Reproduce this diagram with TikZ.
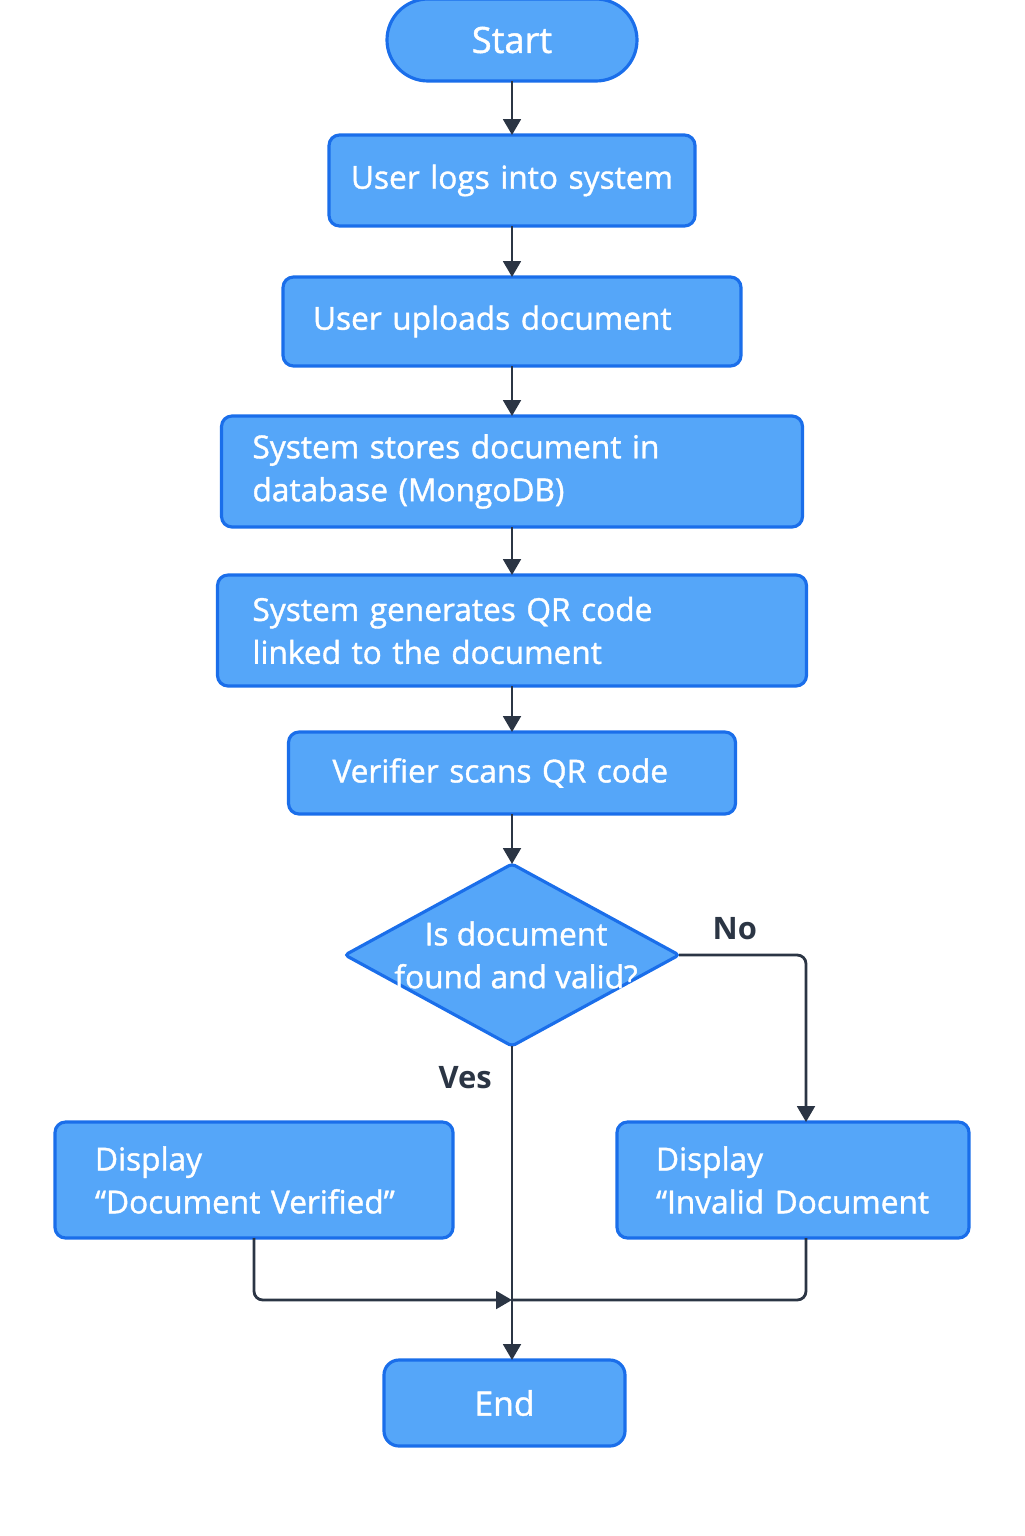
\documentclass[tikz,border=0pt]{standalone}
\usepackage{fontspec}
\setmainfont{Open Sans}[UprightFeatures={FakeBold=1.2}]
\usepackage{tikz}
\usetikzlibrary{shapes.geometric,arrows.meta,positioning,calc}
\definecolor{boxfill}{HTML}{55A6F9}
\definecolor{boxline}{HTML}{1A6EEA}
\definecolor{flowline}{HTML}{2B3544}

\begin{document}
\begin{tikzpicture}[
  every node/.style={font=\fontsize{9.0}{12.2}\selectfont},
  procbox/.style={rectangle, draw=boxline, line width=0.9pt, fill=boxfill, text=white, rounded corners=3pt, align=left, inner ysep=0pt, outer sep=0pt},
  decision/.style={diamond, draw=boxline, line width=0.9pt, fill=boxfill, inner sep=0pt, outer sep=0pt, rounded corners=1pt},
  flow/.style={-{Triangle[length=4.5pt, width=5pt]}, line width=0.8pt, draw=flowline, rounded corners=2.5pt},
  answer/.style={text=flowline, font=\fontsize{8.8}{10}\selectfont\bfseries}
]
\useasboundingbox (0,0) rectangle (10.24,-15.36);

% main column
\node[procbox, rounded corners=0.41cm, align=center, minimum width=2.5cm, minimum height=0.82cm, font=\fontsize{10.3}{12}\selectfont] (start) at (5.12,-0.40) {Start};
\node[procbox, align=center, text width=3.40cm, inner xsep=0.13cm, minimum height=0.91cm, below=0.54cm of start] (login) {User logs into system};
\node[procbox, text width=3.98cm, inner xsep=0.30cm, minimum height=0.89cm, below=0.51cm of login] (upload) {User uploads document};
\node[procbox, text width=5.19cm, inner xsep=0.31cm, minimum height=1.11cm, below=0.50cm of upload] (store) {System stores document in\\database (MongoDB)};
\node[procbox, text width=5.19cm, inner xsep=0.35cm, minimum height=1.11cm, below=0.48cm of store] (qrcode) {System generates QR code\\linked to the document};
\node[procbox, text width=3.59cm, inner xsep=0.44cm, minimum height=0.82cm, below=0.46cm of qrcode] (scan) {Verifier scans QR code};

% decision
\node[decision, minimum width=3.34cm, minimum height=1.82cm, below=0.50cm of scan] (check) {};
\node[text=white, align=center] (checktext) at ($(check)+(0.04,0)$) {Is document\\found and valid?};

% results
\node[procbox, text width=3.18cm, inner xsep=0.40cm, minimum height=1.16cm, below=0.76cm of check, xshift=-2.58cm] (verified) {Display\\“Document~Verified”};
\node[procbox, text width=2.74cm, inner xsep=0.39cm, minimum height=1.16cm, below=0.76cm of check, xshift=2.81cm] (invalid) {Display\\“Invalid~Document};
\node[procbox, align=center, rounded corners=0.15cm, minimum width=2.41cm, minimum height=0.86cm, font=\fontsize{9.6}{12}\selectfont, below=3.14cm of check, xshift=-0.075cm] (finish) {End};

\coordinate (merge) at ($(check.south |- finish.north)+(0,0.60)$);

% connectors
\draw[flow] (start) -- (login);
\draw[flow] (login) -- (upload);
\draw[flow] (upload) -- (store);
\draw[flow] (store) -- (qrcode);
\draw[flow] (qrcode) -- (scan);
\draw[flow] (scan) -- (check);
\draw[flow] (check.east) -| node[answer, pos=0.22, above=0.5pt] {No} ([xshift=0.13cm]invalid.north);
\draw[flow] (check.south) -- node[answer, pos=0.1, left=2pt] {Ves} (check.south |- finish.north);
\draw[flow] (verified.south) |- (merge);
\draw[flow, -] ([xshift=0.13cm]invalid.south) |- (merge);
\end{tikzpicture}
\end{document}
